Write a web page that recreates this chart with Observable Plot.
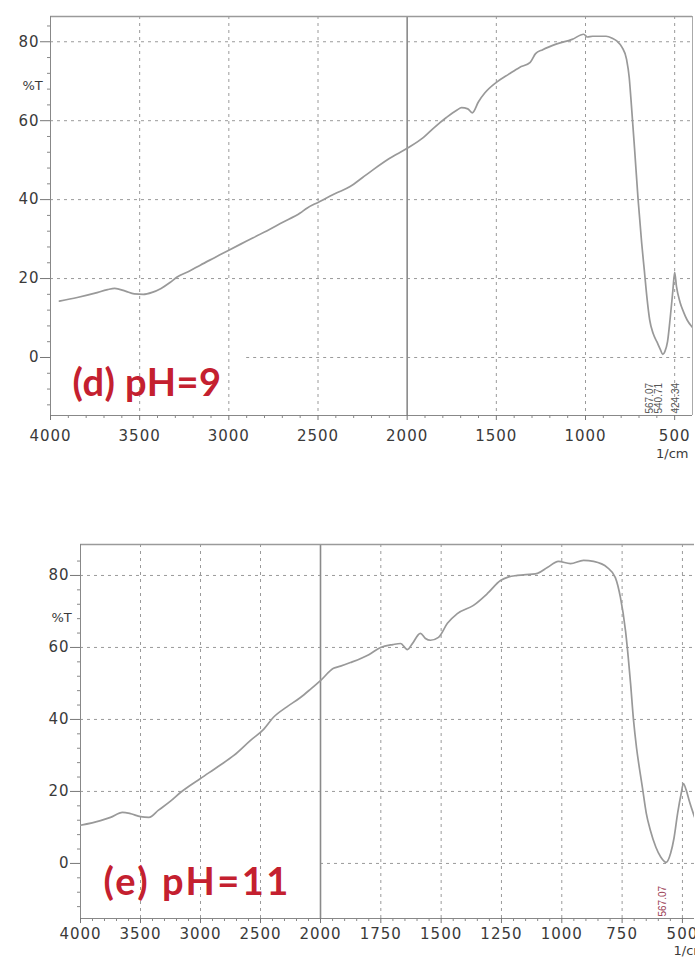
<!DOCTYPE html>
<html><head><meta charset="utf-8">
<script src="https://cdn.jsdelivr.net/npm/d3@7"></script>
<script src="https://cdn.jsdelivr.net/npm/@observablehq/plot@0.6"></script>
<style>
body{margin:0;background:#fff;}
#wrap{width:695px;height:963px;overflow:hidden;}
#wrap svg{display:block;}
[aria-label$="tick label"] text{letter-spacing:1px;}
</style>
</head><body><div id="wrap"></div>
<script>
// ---- data ----
const wavenumberD = [3950,3850,3750,3680,3640,3580,3530,3480,3430,3380,3330,3290,3220,3160,3080,3000,2900,2800,2700,2600,2560,2500,2400,2320,2250,2190,2100,2000,1910,1850,1780,1720,1695,1660,1635,1600,1565,1500,1430,1370,1310,1280,1240,1165,1075,1010,990,960,885,850,825,795,770,755,745,725,705,685,670,655,640,620,600,580,567,555,540,525,510,500,490,470,450,430,400];
const transmittanceD = [14.3,15.2,16.3,17.2,17.5,16.8,16.1,16.0,16.5,17.5,19.0,20.4,21.9,23.4,25.3,27.2,29.5,31.8,34.2,36.6,37.9,39.3,41.6,43.3,45.6,47.6,50.4,53.0,55.7,58.2,60.8,62.7,63.3,63.0,62.0,64.8,67.0,69.7,71.8,73.5,74.8,77.0,78.0,79.4,80.6,81.9,81.2,81.4,81.4,80.9,80.2,78.6,75.6,71.0,65.4,53.0,40.0,29.0,22.0,15.0,9.5,6.0,4.0,2.0,0.8,1.5,4.0,10.0,17.0,21.6,18.0,14.0,11.5,9.5,7.6];

const wavenumberE = [4000,3833,3750,3650,3580,3500,3430,3350,3250,3167,3000,2850,2722,2583,2472,2392,2280,2167,2080,2000,1946,1917,1876,1800,1751,1700,1668,1640,1620,1586,1565,1544,1511,1474,1433,1366,1308,1254,1220,1184,1101,1060,1014,964,910,868,811,778,757,736,715,703,690,675,666,650,633,610,590,567,549,535,520,505,496,485,470,455,440];
const transmittanceE = [10.6,11.9,12.8,14.2,13.8,13.0,12.8,14.8,17.3,19.7,23.6,27.0,30.0,34.2,37.3,40.6,43.5,46.1,48.5,50.8,54.2,54.8,55.8,58.0,60.0,60.8,61.1,59.4,61.0,63.9,62.5,62.0,62.8,66.7,69.4,71.7,75.0,78.6,79.6,80.0,80.6,82.2,83.9,83.3,84.2,83.9,82.2,79.4,73.9,64.7,50.0,40.0,32.0,25.0,21.1,14.0,9.2,4.5,1.8,0.3,2.8,7.0,13.9,19.5,22.2,20.5,17.0,13.9,11.0];

const xTicksD = [4000,3500,3000,2500,2000,1500,1000,500];
const xTicksE = [4000,3500,3000,2500,2000,1750,1500,1250,1000,750,500];
const yTicks = [0,20,40,60,80];
const peaksD = [567.07, 540.71, 424.34];
const peaksE = [567.07];
const panelLabels = ["(d) pH=9", "(e) pH=11"];
const yTitle = "%T";
const xUnit = "1/cm";

// ---- helpers ----
const seriesD = wavenumberD.map((w,i)=>({w, t: transmittanceD[i]}));
const seriesE = wavenumberE.map((w,i)=>({w, t: transmittanceE[i]}));
const yMinor = d3.range(-12, 88, 4).filter(v => !yTicks.includes(v));
const fontTicks = "DejaVu Sans, Liberation Sans, sans-serif";
const dotted = {stroke:"#9a9a9a", strokeOpacity:1, strokeDasharray:"3,4", strokeWidth:1};

function panel(o){
  const xEnd = o.xDomain[o.xDomain.length-1];
  return Plot.plot({
    width: 695, height: o.height,
    marginTop: o.mt, marginBottom: o.mb, marginLeft: o.ml, marginRight: o.mr,
    x: {type:"linear", domain: o.xDomain, range: o.xRange},
    y: {domain: o.yDomain},
    style: {fontFamily: fontTicks, background:"white", color:"#3a3a3a", overflow:"hidden"},
    marks: [
      Plot.gridX(o.xTicks.filter(t => t!==2000 && t!==4000), dotted),
      Plot.gridY(yTicks.filter(t => t!==0), dotted),
      Plot.ruleY([0], {x1: o.zeroFrom, x2: xEnd, ...dotted}),
      Plot.ruleX([2000], {stroke:"#8a8a8a", strokeWidth:1.6}),
      Plot.ruleY([o.yDomain[1]], {stroke:"#9a9a9a", strokeWidth:1.6}),
      Plot.ruleY([o.yDomain[0]], {stroke:"#888", strokeWidth:1}),
      Plot.ruleX([4000], {stroke:"#888", strokeWidth:1}),
      o.rightFrame ? Plot.ruleX([xEnd], {stroke:"#aaa", strokeWidth:1}) : null,
      Plot.line(o.series, {x:"w", y:"t", stroke:"#999", strokeWidth:1.7, clip:true, curve:"monotone-x"}),
      Plot.axisX(o.xTicks, {tickSize:5, tickPadding:o.xPad, fontSize:15, label:null, tickFormat: d => String(d), stroke:"#777", fill:"#3a3a3a"}),
      Plot.axisX(o.xMinor, {tickSize:3, tickFormat: () => "", label:null, stroke:"#888"}),
      Plot.axisY(yTicks, {tickSize:10, tickPadding:1, fontSize:15, label:null, stroke:"#777", fill:"#3a3a3a"}),
      Plot.axisY(yMinor, {tickSize:3, tickFormat: () => "", label:null, stroke:"#888"}),
      Plot.text([yTitle], {frameAnchor:"top-left", dx:o.titleDx, dy:o.titleDy, fontSize:13, fontFamily:fontTicks, fill:"#3a3a3a"}),
      Plot.text([xUnit], {frameAnchor:"bottom-right", dx:o.unitDx, dy:o.unitDy, textAnchor:o.unitAnchor, fontSize:13, fill:"#3a3a3a"}),
      ...o.peaks.map((p, i) => Plot.text([p], {x: d => d, frameAnchor:"bottom", rotate:-90, textAnchor:"start", dy:-2, dx:o.peakDx[i], text: d => d.toFixed(2), fill:o.peakColor, fontSize:10, fontFamily:"Liberation Sans, sans-serif"})),
      Plot.text([o.label], {frameAnchor:"bottom-left", dx:o.labelDx, dy:o.labelDy, textAnchor:"start", fill:"#c4202f", fontSize:o.labelSize, fontWeight:"bold", fontFamily:"Lato, Open Sans, sans-serif"})
    ]
  });
}

const plotD = panel({
  height:480, mt:16, mb:65, ml:50, mr:3,
  xDomain:[4000,400], xRange:[50,692], yDomain:[-14.7,86.4],
  xTicks:xTicksD, xMinor: d3.range(3900,400,-100).filter(v => v%500!==0),
  series:seriesD, zeroFrom:2900, rightFrame:true, xPad:10,
  titleDx:-28, titleDy:64, unitDx:-4, unitDy:42, unitAnchor:"end",
  peaks:peaksD, peakColor:"#555", peakDx:[-10,-5,-9],
  label:panelLabels[0], labelDx:22, labelDy:-20, labelSize:38
});
const plotE = panel({
  height:483, mt:64, mb:45, ml:80, mr:1,
  xDomain:[4000,2000,450], xRange:[80,320,694], yDomain:[-15.3,88.6],
  xTicks:xTicksE, xMinor: d3.range(3900,2000,-100).concat(d3.range(1950,450,-50)).filter(v => !xTicksE.includes(v)),
  series:seriesE, zeroFrom:2000, rightFrame:false, xPad:5,
  titleDx:-29, titleDy:68, unitDx:-21, unitDy:36, unitAnchor:"start",
  peaks:peaksE, peakColor:"#9b4055", peakDx:[0],
  label:panelLabels[1], labelDx:23, labelDy:-24, labelSize:38
});
const wrap = document.getElementById("wrap");
wrap.appendChild(plotD);
wrap.appendChild(plotE);
// widen the (e) label slightly as in the source
d3.select(plotE).selectAll("text").filter(function(){return this.textContent===panelLabels[1];}).style("letter-spacing","2.5px");
d3.select(plotD).selectAll("text").filter(function(){return this.textContent===panelLabels[0];}).style("letter-spacing","0.5px");
</script></body></html>
